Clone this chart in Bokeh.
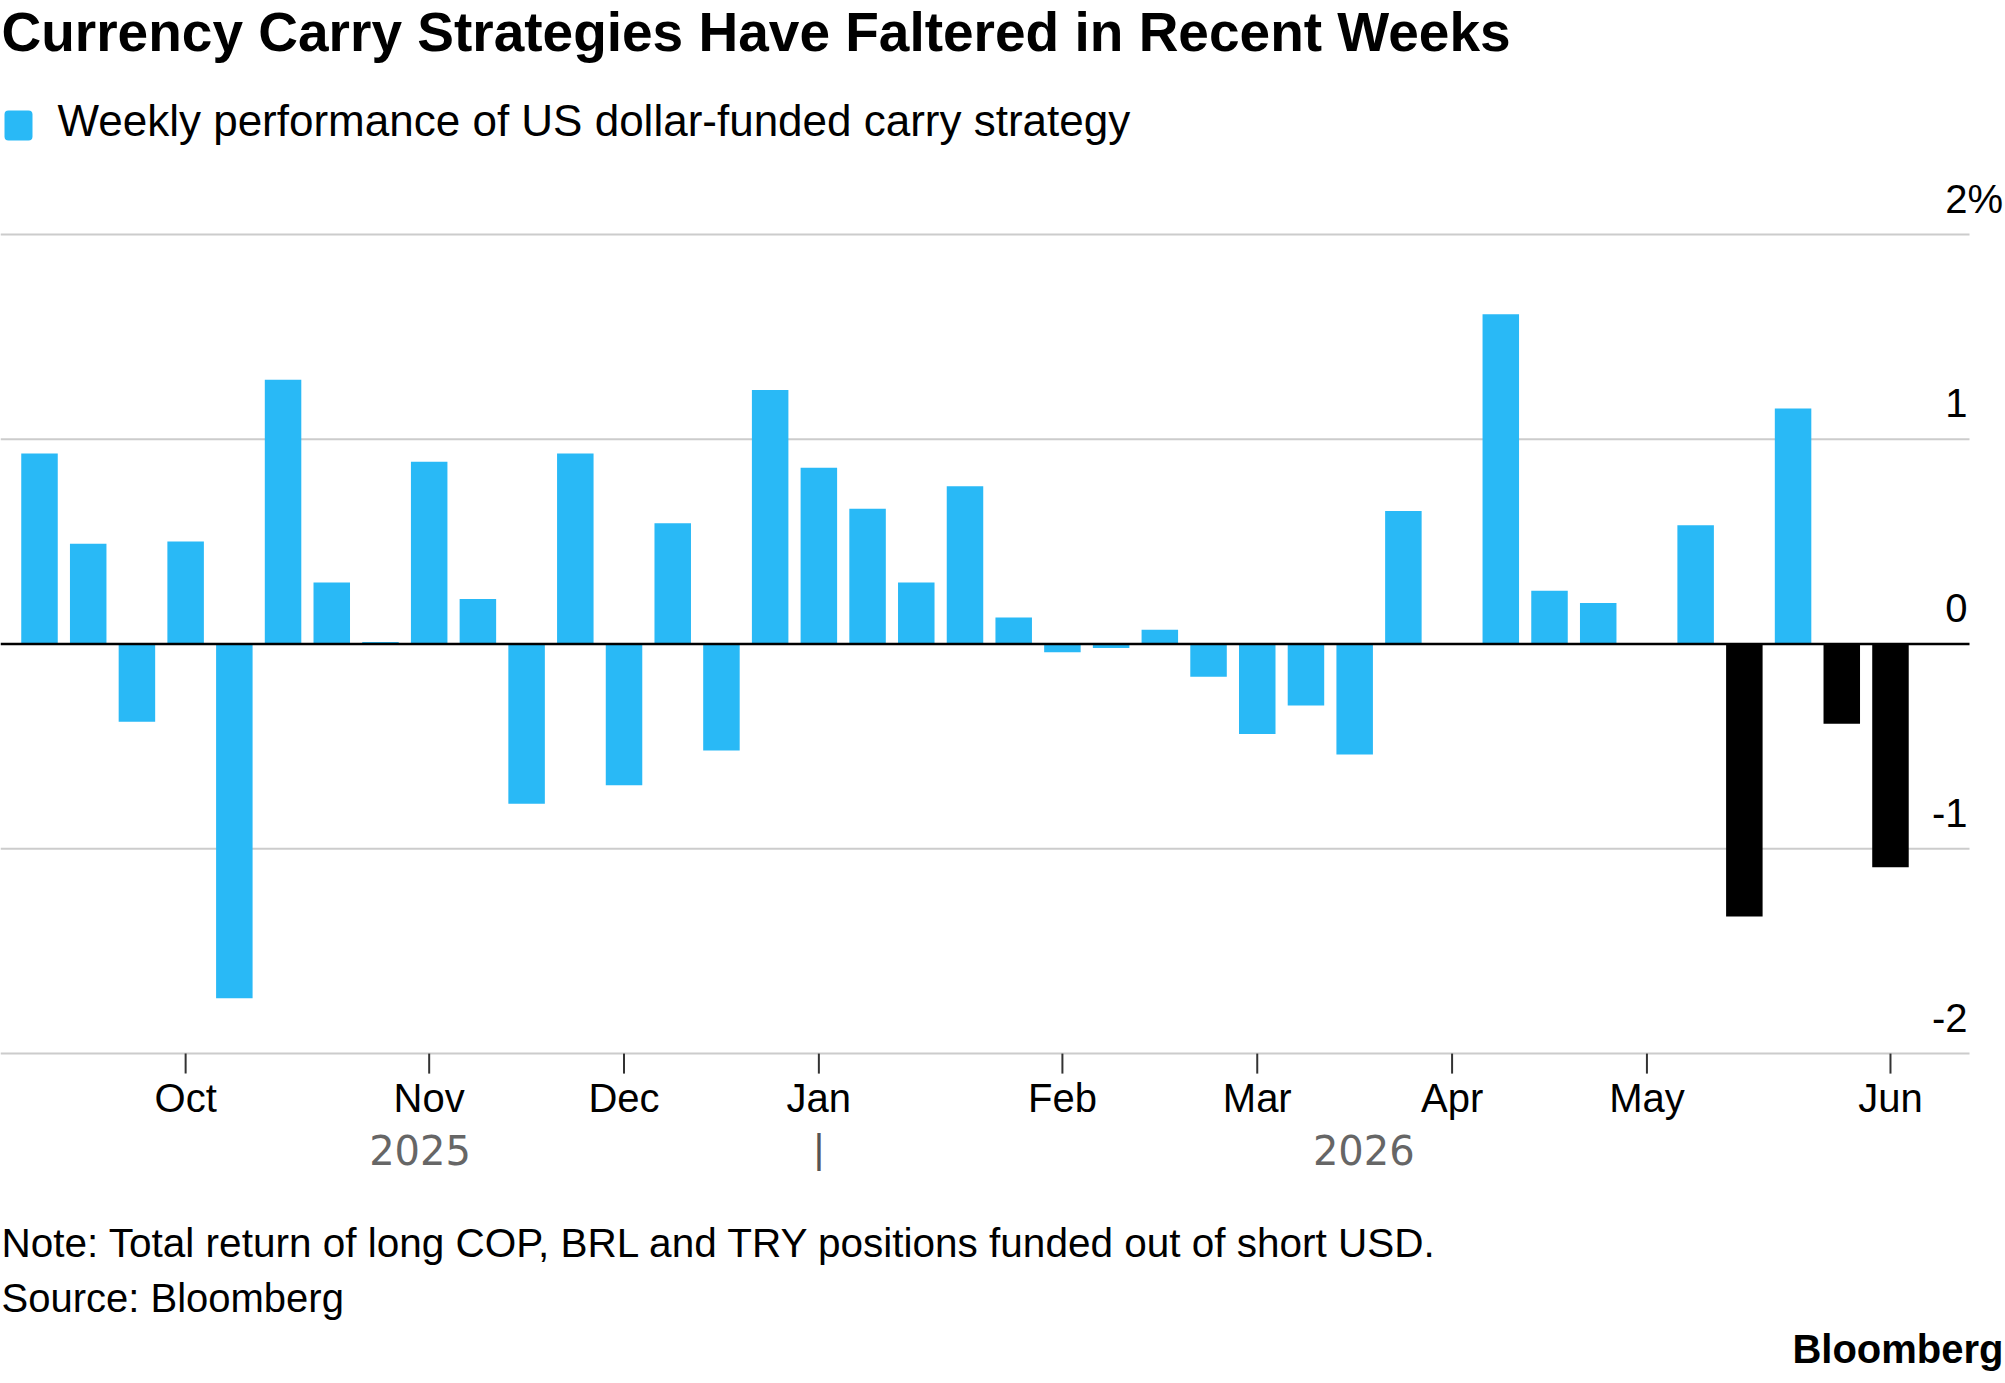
import pandas as pd
from bokeh.plotting import figure
from bokeh.models import ColumnDataSource, Range1d, Label, BoxAnnotation
from bokeh.embed import file_html
from bokeh.resources import INLINE

# ---------------- data ----------------
weeks = [
    "2025-09-12", "2025-09-19", "2025-09-26", "2025-10-03", "2025-10-10",
    "2025-10-17", "2025-10-24", "2025-10-31", "2025-11-07", "2025-11-14",
    "2025-11-21", "2025-11-28", "2025-12-05", "2025-12-12", "2025-12-19",
    "2025-12-26", "2026-01-02", "2026-01-09", "2026-01-16", "2026-01-23",
    "2026-01-30", "2026-02-06", "2026-02-13", "2026-02-20", "2026-02-27",
    "2026-03-06", "2026-03-13", "2026-03-20", "2026-03-27", "2026-04-03",
    "2026-04-10", "2026-04-17", "2026-04-24", "2026-05-01", "2026-05-08",
    "2026-05-15", "2026-05-22", "2026-05-29", "2026-06-05",
]
weekly_perf = [
    0.93, 0.49, -0.38, 0.50, -1.73,
    1.29, 0.30, 0.01, 0.89, 0.22,
    -0.78, 0.93, -0.69, 0.59, -0.52,
    1.24, 0.86, 0.66, 0.30, 0.77,
    0.13, -0.04, -0.02, 0.07, -0.16,
    -0.44, -0.30, -0.54, 0.65, None,
    1.61, 0.26, 0.20, None, 0.58,
    -1.33, 1.15, -0.39, -1.09,
]
highlight_from = "2026-05-15"   # recent negative weeks drawn in black

month_tick_dates = ["2025-10-03", "2025-11-07", "2025-12-05", "2026-01-02", "2026-02-06",
                    "2026-03-06", "2026-04-03", "2026-05-01", "2026-06-05"]
month_tick_labels = ["Oct", "Nov", "Dec", "Jan", "Feb", "Mar", "Apr", "May", "Jun"]
year_labels = ["2025", "2026"]
year_break = "2026-01-02"

y_ticks = [-2, -1, 0, 1, 2]
y_tick_labels = ["-2", "-1", "0", "1", "2"]
y_unit_suffix = "%"

title_text = "Currency Carry Strategies Have Faltered in Recent Weeks"
legend_text = "Weekly performance of US dollar-funded carry strategy"
note_text = "Note: Total return of long COP, BRL and TRY positions funded out of short USD."
source_text = "Source: Bloomberg"
brand_text = "Bloomberg"

# ---------------- layout constants (canvas pixels) ----------------
W, H = 2005, 1383
PLOT_RIGHT = 1969          # where gridlines end
ZERO_Y = 643.5             # canvas y of value 0
PX_PER_UNIT = 204.8        # pixels per 1 percentage point
PX_PER_DAY = 48.71 / 7.0
FIRST_CENTER_X = 39.0
BAR_PX = 36.5
TICK_PX = 20
BASELINE_FIX = 0.41        # em correction for rendered baseline position

BLUE = "#29b9f6"
GRID = "#cccccc"
FONT = "Liberation Sans"

EPOCH = pd.Timestamp("1970-01-01")


def to_ms(d):
    return (pd.Timestamp(d) - EPOCH) / pd.Timedelta(milliseconds=1)


def by(Y, fs):
    """desired canvas baseline y (top-down) -> label screen y (bottom-up)"""
    return H - (Y - BASELINE_FIX * fs)


def val_to_Y(v):
    return ZERO_Y - v * PX_PER_UNIT


dates = pd.to_datetime(weeks)
x_start = dates[0] - pd.Timedelta(days=FIRST_CENTER_X / PX_PER_DAY)
x_end = x_start + pd.Timedelta(days=W / PX_PER_DAY)
x_plot_right = x_start + pd.Timedelta(days=PLOT_RIGHT / PX_PER_DAY)
bar_width_ms = BAR_PX / PX_PER_DAY * 86400000.0

y_start = -(H - ZERO_Y) / PX_PER_UNIT
y_end = ZERO_Y / PX_PER_UNIT

xs, tops, colors = [], [], []
hl = pd.Timestamp(highlight_from)
for d, v in zip(dates, weekly_perf):
    if v is None:
        continue
    xs.append(d)
    tops.append(v)
    colors.append("#000000" if (d >= hl and v < 0) else BLUE)

src = ColumnDataSource(data=dict(x=xs, top=tops, color=colors))

p = figure(
    width=W, height=H,
    x_axis_location=None, y_axis_location=None,
    x_axis_type="datetime",
    x_range=Range1d(x_start, x_end), y_range=Range1d(y_start, y_end),
    output_backend="svg", toolbar_location=None,
    min_border=0, min_border_left=0, min_border_right=0,
    min_border_top=0, min_border_bottom=0,
    outline_line_color=None, background_fill_color="white", border_fill_color="white",
)
p.xgrid.visible = False
p.ygrid.visible = False

# gridlines (stop at PLOT_RIGHT)
grid_vals = [t for t in y_ticks if t != 0]
p.segment(x0=[x_start] * len(grid_vals), x1=[x_plot_right] * len(grid_vals),
          y0=grid_vals, y1=grid_vals, line_color=GRID, line_width=2)

# x ticks
tick_dates = pd.to_datetime(month_tick_dates)
y_bottom = min(y_ticks)
p.segment(x0=list(tick_dates), x1=list(tick_dates),
          y0=[y_bottom] * len(tick_dates),
          y1=[y_bottom - TICK_PX / PX_PER_UNIT] * len(tick_dates),
          line_color="#333333", line_width=2)

# bars
p.vbar(x="x", top="top", bottom=0, width=bar_width_ms, fill_color="color",
       line_color=None, source=src)

# zero line
p.segment(x0=[x_start], x1=[x_plot_right], y0=[0], y1=[0], line_color="#000000", line_width=2.5)


def add_text(text, x, y_base, fs, x_units="screen", align="left", font=FONT,
             style="normal", color="#000000"):
    p.add_layout(Label(x=x, x_units=x_units, y=by(y_base, fs), y_units="screen", text=text,
                       text_align=align, text_baseline="alphabetic", text_font=font,
                       text_font_style=style, text_font_size=f"{fs}px", text_color=color))


# month labels
for d, lab in zip(month_tick_dates, month_tick_labels):
    add_text(lab, to_ms(d), 1114, 40, x_units="data", align="center")

# y tick labels (above gridlines, numbers right aligned at plot edge)
for t, lab in zip(y_ticks, y_tick_labels):
    add_text(lab, PLOT_RIGHT - 2, val_to_Y(t) - 19.5, 40, align="right")
add_text(y_unit_suffix, PLOT_RIGHT - 2, val_to_Y(max(y_ticks)) - 19.5, 40, align="left")

# year labels and divider
first_edge = to_ms(dates[0]) - bar_width_ms / 2
last_edge = to_ms(dates[-1]) + bar_width_ms / 2
brk = to_ms(year_break)
for lab, cx in zip(year_labels, [(first_edge + brk) / 2, (brk + last_edge) / 2]):
    add_text(lab, cx, 1166, 40, x_units="data", align="center", font="DejaVu Sans",
             color="#666666")
add_text("|", brk, 1165, 40, x_units="data", align="center", color="#555555")

# title
add_text(title_text, 1, 54, 55, style="bold")

# legend
p.add_layout(BoxAnnotation(left=4, right=32, top=H - 110, bottom=H - 140,
                           left_units="screen", right_units="screen",
                           top_units="screen", bottom_units="screen",
                           fill_color=BLUE, fill_alpha=1.0, line_color=None, border_radius=4))
add_text(legend_text, 57, 138, 44)

# footer
add_text(note_text, 1, 1259, 40.5)
add_text(source_text, 1, 1314, 40)
add_text(brand_text, 2003, 1365, 40, align="right", style="bold")

open("out.html", "w").write(file_html(p, INLINE))
